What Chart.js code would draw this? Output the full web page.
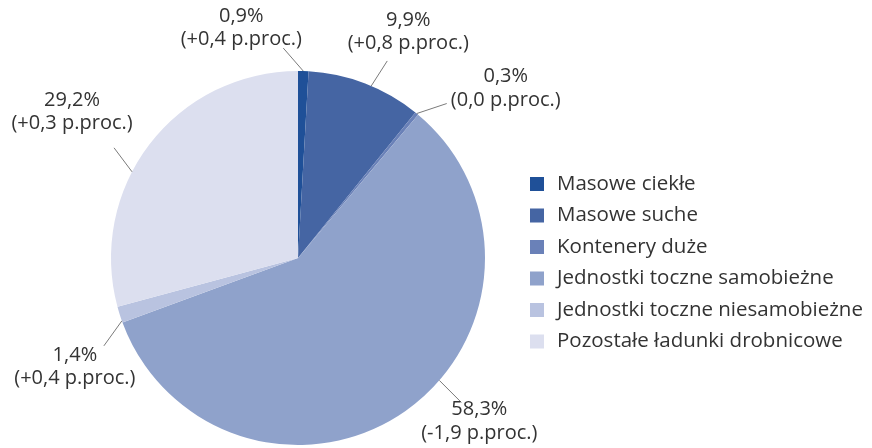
<!DOCTYPE html>
<html>
<head>
<meta charset="utf-8">
<script src="https://cdn.jsdelivr.net/npm/chart.js@4"></script>
<style>
  html, body { margin: 0; padding: 0; background: #fff; }
  #wrap { width: 872px; height: 448px; position: relative; }
</style>
</head>
<body>
<div id="wrap"><canvas id="pieChart" width="872" height="448"></canvas></div>
<script>
// categories and values
const categories = ['Masowe ciekłe', 'Masowe suche', 'Kontenery duże',
  'Jednostki toczne samobieżne', 'Jednostki toczne niesamobieżne', 'Pozostałe ładunki drobnicowe'];
const shares = [0.9, 9.9, 0.3, 58.3, 1.4, 29.2];
const changes = ['+0,4', '+0,8', '0,0', '-1,9', '+0,4', '+0,3'];
const colors = ['#1f5098', '#4565a3', '#6a81b8', '#8fa2cb', '#b9c3e0', '#dcdfef'];

// label placement: angle nudge (deg), leader vector, text offset from leader end
const labelLayout = [
  { nudge: 0,   line: [-20, -23], text: [-42, -32] },
  { nudge: 2,   line: [16, -25],  text: [21, -41] },
  { nudge: 0,   line: [30, -10],  text: [59, -27] },
  { nudge: -14, line: [22, 22],   text: [18, 7] },
  { nudge: -2,  line: [-18, 25],  text: [-29, 9] },
  { nudge: -10, line: [-18, -24], text: [-42, -48] }
];

const fmt = v => v.toFixed(1).replace('.', ',');
const FONT = '"Open Sans", sans-serif';

const labelPlugin = {
  id: 'labelPlugin',
  afterDraw(chart) {
    const ctx = chart.ctx;
    const arcs = chart.getDatasetMeta(0).data;
    ctx.save();
    arcs.forEach((arc, i) => {
      const p = arc.getProps(['x', 'y', 'startAngle', 'endAngle', 'outerRadius'], true);
      const a = (p.startAngle + p.endAngle) / 2 + labelLayout[i].nudge * Math.PI / 180;
      const sx = p.x + Math.cos(a) * p.outerRadius;
      const sy = p.y + Math.sin(a) * p.outerRadius;
      const ex = sx + labelLayout[i].line[0];
      const ey = sy + labelLayout[i].line[1];
      ctx.strokeStyle = '#7a7a7a';
      ctx.lineWidth = 1;
      ctx.beginPath();
      ctx.moveTo(sx, sy);
      ctx.lineTo(ex, ey);
      ctx.stroke();
      const tx = ex + labelLayout[i].text[0];
      const ty = ey + labelLayout[i].text[1];
      ctx.fillStyle = '#333';
      ctx.font = '20px ' + FONT;
      ctx.textAlign = 'center';
      ctx.textBaseline = 'middle';
      ctx.fillText(fmt(shares[i]) + '%', tx, ty);
      ctx.fillText('(' + changes[i] + ' p.proc.)', tx, ty + 23.5);
    });

    // legend
    ctx.font = '20.5px ' + FONT;
    ctx.textAlign = 'left';
    ctx.textBaseline = 'middle';
    categories.forEach((c, i) => {
      const y = 184 + i * 31.5;
      ctx.fillStyle = colors[i];
      ctx.fillRect(530, y - 7, 14, 14);
      ctx.fillStyle = '#333';
      ctx.fillText(c, 557, y);
    });
    ctx.restore();
  }
};

new Chart(document.getElementById('pieChart'), {
  type: 'pie',
  data: {
    labels: categories,
    datasets: [{
      data: shares,
      backgroundColor: colors,
      borderWidth: 0
    }]
  },
  options: {
    responsive: false,
    animation: false,
    layout: { padding: { left: 111, right: 387, top: 71, bottom: 3 } },
    plugins: {
      legend: { display: false },
      tooltip: { enabled: false }
    }
  },
  plugins: [labelPlugin]
});
</script>
</body>
</html>
